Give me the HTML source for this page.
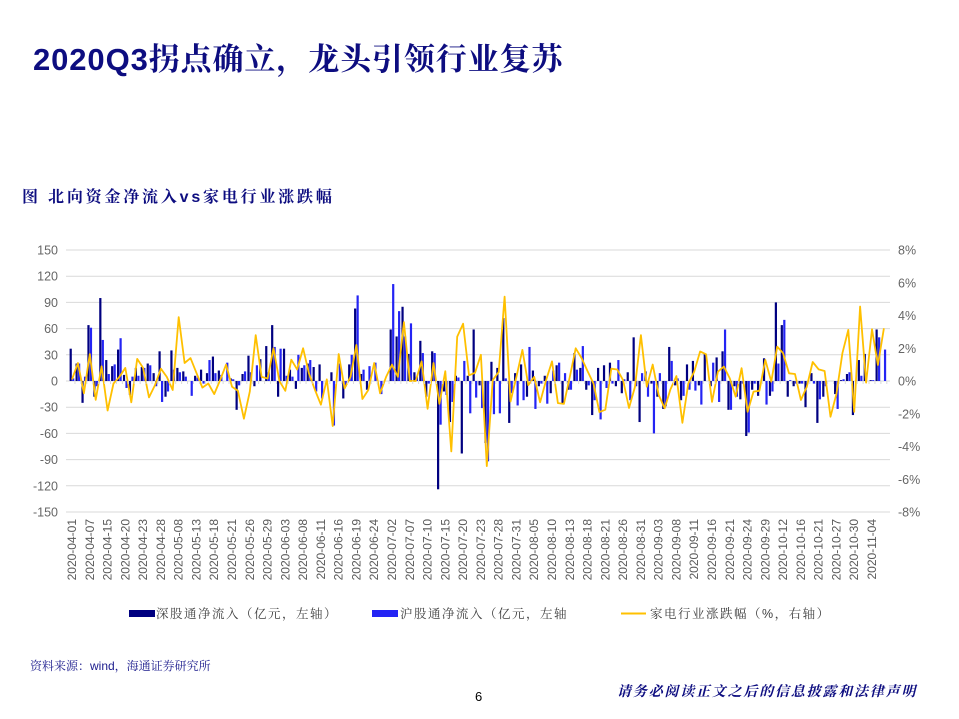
<!DOCTYPE html>
<html><head><meta charset="utf-8"><style>
html,body{margin:0;padding:0;background:#fff;}
svg{display:block;font-family:"Liberation Sans","Noto Sans CJK SC",sans-serif;}
.serif{font-family:"Liberation Sans","Noto Serif CJK SC",serif;}
</style></head><body>
<svg id="chart" width="959" height="719" viewBox="0 0 959 719" xmlns="http://www.w3.org/2000/svg">
<text class="serif" x="33" y="70" font-size="31" font-weight="bold" fill="#0d0d80" letter-spacing="0.9">2020Q3拐点确立，龙头引领行业复苏</text>
<text class="serif" x="22" y="202" font-size="16" font-weight="bold" fill="#0d0d80" letter-spacing="2.8">图  北向资金净流入vs家电行业涨跌幅</text>
<g id="grid"></g>
<g id="yleft"></g>
<g id="yright"></g>
<g id="bars"></g>
<g id="line"></g>
<g id="xaxis"></g>
<g>
 <rect x="129" y="610" width="26" height="7" fill="#000080"/>
 <text class="serif" x="156" y="618" font-size="12.5" fill="#404040" letter-spacing="1.5">深股通净流入（亿元，左轴）</text>
 <rect x="372" y="610" width="26" height="7" fill="#2424f4"/>
 <text class="serif" x="400" y="618" font-size="12.5" fill="#404040" letter-spacing="1.5">沪股通净流入（亿元，左轴</text>
 <line x1="621" y1="613.5" x2="646" y2="613.5" stroke="#FFC000" stroke-width="2"/>
 <text class="serif" x="650" y="618" font-size="12.5" fill="#404040" letter-spacing="1.5">家电行业涨跌幅（%，右轴）</text>
</g>
<text class="serif" x="30" y="670" font-size="12" fill="#1a1a8c">资料来源：wind，海通证券研究所</text>
<text x="475" y="701" font-size="13" fill="#000">6</text>
<text class="serif" x="617" y="696" font-size="14" font-weight="bold" font-style="italic" fill="#0d0d80" letter-spacing="1.8">请务必阅读正文之后的信息披露和法律声明</text>
</svg>
<script>
const leftTicks=[150,120,90,60,30,0,-30,-60,-90,-120,-150];
const rightTicks=["8%","6%","4%","2%","0%","-2%","-4%","-6%","-8%"];
const rightTickValues=[8,6,4,2,0,-2,-4,-6,-8];
const dateLabels=["2020-04-01","2020-04-07","2020-04-15","2020-04-20","2020-04-23","2020-04-28","2020-05-08","2020-05-13","2020-05-18","2020-05-21","2020-05-26","2020-05-29","2020-06-03","2020-06-08","2020-06-11","2020-06-16","2020-06-19","2020-06-24","2020-07-02","2020-07-07","2020-07-10","2020-07-15","2020-07-20","2020-07-23","2020-07-28","2020-07-31","2020-08-05","2020-08-10","2020-08-13","2020-08-18","2020-08-21","2020-08-26","2020-08-31","2020-09-03","2020-09-08","2020-09-11","2020-09-16","2020-09-21","2020-09-24","2020-09-29","2020-10-12","2020-10-16","2020-10-21","2020-10-27","2020-10-30","2020-11-04"];
const labelStep=3;
const szFlow=[37,20,-25,64,-18,95,24,17,36,7,-16,15,16,20,9,34,-18,35,15,11,0,6,13,9,28,12,0,3,-33,8,29,-6,25,40,
64,-18,37,13,-9,15,20,16,19,0,10,0,-20,19,83,8,-10,0,0,0,59,51,85,31,10,46,-18,34,-124,-12,-47,6,-83,
6,59,-5,-71,22,15,72,-48,9,19,-18,12,-6,6,-14,18,-26,-10,32,15,-10,-39,15,18,21,-6,-14,10,50,-47,11,-3,-18,-32,
39,-5,-22,19,23,-5,31,-6,27,34,-33,-6,-21,-63,-10,-17,26,-17,90,64,-18,-6,-3,-30,9,-48,-18,0,-15,1,8,-39,24,31,1,59,0];
const hzFlow=[3,20,5,61,-6,47,8,19,49,-8,5,6,15,18,-6,-24,-12,13,10,5,-17,4,-3,24,9,7,21,2,-5,11,10,18,0,10,
39,37,6,5,30,18,24,-12,-20,0,-51,20,-6,30,98,13,17,21,-15,0,111,80,51,66,5,32,-3,32,-50,-16,-24,4,23,
-37,-19,-31,-92,-38,-37,3,-14,-28,-22,39,-32,-3,-26,12,21,9,-10,13,40,-5,-22,-44,-8,-3,24,2,-22,-6,9,-18,-60,9,-29,
23,3,-17,-10,-11,-27,0,21,-24,59,-33,-18,-3,-59,-3,0,-27,-12,20,70,1,-3,-3,0,-3,-21,-6,0,-32,2,10,0,6,0,1,50,36];
const industryPct=[0.1,1.1,-0.75,1.65,-1.15,0.9,-1.8,-0.15,0.25,0.8,-1.3,1.35,0.8,-1.0,-0.25,0.75,0.25,-0.55,3.9,1.1,1.4,0.5,-0.4,-0.15,-0.8,0.05,1.0,-0.35,-0.6,-2.3,-0.65,2.8,0.25,0.15,
2.0,0,-0.6,1.3,0.7,2.0,0.45,-0.55,-1.45,0.1,-2.75,1.65,-0.45,0.25,2.2,-1.1,-0.55,1.1,-0.75,0.25,1.0,0.25,3.6,0,0,1.2,-1.7,1.1,-1.4,0.6,-4.3,2.7,3.5,
0.35,0.5,1.6,-5.2,0.05,0.55,5.15,-1.25,0.25,1.9,-0.25,0.25,-1.3,0.05,1.2,-1.35,-1.4,0.25,2.0,1.4,0.6,-0.15,-1.9,-1.75,0.75,0.7,0.05,-1.65,-0.35,2.8,-0.35,1.0,
-0.85,-1.67,-0.5,0.3,-2.55,-0.15,0.57,1.8,1.63,-1.27,0.57,0.88,0.16,-0.96,0.78,-1.88,-0.65,-0.6,1.29,-0.04,2.1,1.7,0.47,0.43,-1.16,-0.35,1.16,0.71,0.61,-2.18,-0.8,1.7,3.12,-1.88,4.55,-0.1,3.16,0.98,3.22];

const NS="http://www.w3.org/2000/svg";
const X0=72, DX=(872-72)/135, Y0=381;
const plotL=66, plotR=890;
function xPos(i){return X0+i*DX;}
function yL(v){return Y0 - v*(262/300);}
function yR(p){return Y0 - p*(262/16);}
function mk(tag,attrs,parent){const e=document.createElementNS(NS,tag);for(const k in attrs)e.setAttribute(k,attrs[k]);parent.appendChild(e);return e;}

const grid=document.getElementById('grid'), yl=document.getElementById('yleft'), yr=document.getElementById('yright');
leftTicks.forEach(v=>{
  const ln=mk('line',{x1:plotL,x2:plotR,y1:yL(v),y2:yL(v),stroke:'#d9d9d9','stroke-width':1},grid);
  
  
  const t=mk('text',{x:58,y:yL(v)+4.5,'font-size':12.5,'text-anchor':'end',fill:'#666666'},yl);
  t.textContent=v;
  
  
});
rightTickValues.forEach((p,k)=>{
  const t=mk('text',{x:898,y:yR(p)+4.5,'font-size':12.5,fill:'#666666'},yr);
  t.textContent=rightTicks[k];
  
  
});

const bars=document.getElementById('bars');
szFlow.forEach((v,i)=>{
  const x=xPos(i);
  const r=mk('rect',{x:x-2.4,y:Math.min(yL(v),Y0),width:2.2,height:Math.max(Math.abs(yL(v)-Y0),0.01),fill:'#000080'},bars);
  
  
});
hzFlow.forEach((v,i)=>{
  const x=xPos(i);
  const r=mk('rect',{x:x+0.1,y:Math.min(yL(v),Y0),width:2.2,height:Math.max(Math.abs(yL(v)-Y0),0.01),fill:'#2424f4'},bars);
  
  
});

const lg=document.getElementById('line');
const pts=industryPct.map((p,i)=>xPos(i).toFixed(1)+','+yR(p).toFixed(1)).join(' ');
const pl=mk('polyline',{points:pts,fill:'none',stroke:'#FFC000','stroke-width':1.8,'stroke-linejoin':'round'},lg);



const xa=document.getElementById('xaxis');
for(let i=0;i<szFlow.length;i++){
  const tk=mk('line',{x1:xPos(i)+DX/2,x2:xPos(i)+DX/2,y1:Y0,y2:Y0+3,stroke:'#d9d9d9','stroke-width':1},xa);
  
  
}
dateLabels.forEach((d,k)=>{
  const x=xPos(k*labelStep)+4;
  const t=mk('text',{x:0,y:0,'font-size':12,'text-anchor':'end',fill:'#595959',transform:`translate(${x.toFixed(1)},519) rotate(-90)`},xa);
  t.textContent=d;
  
  
});
</script>
</body></html>
